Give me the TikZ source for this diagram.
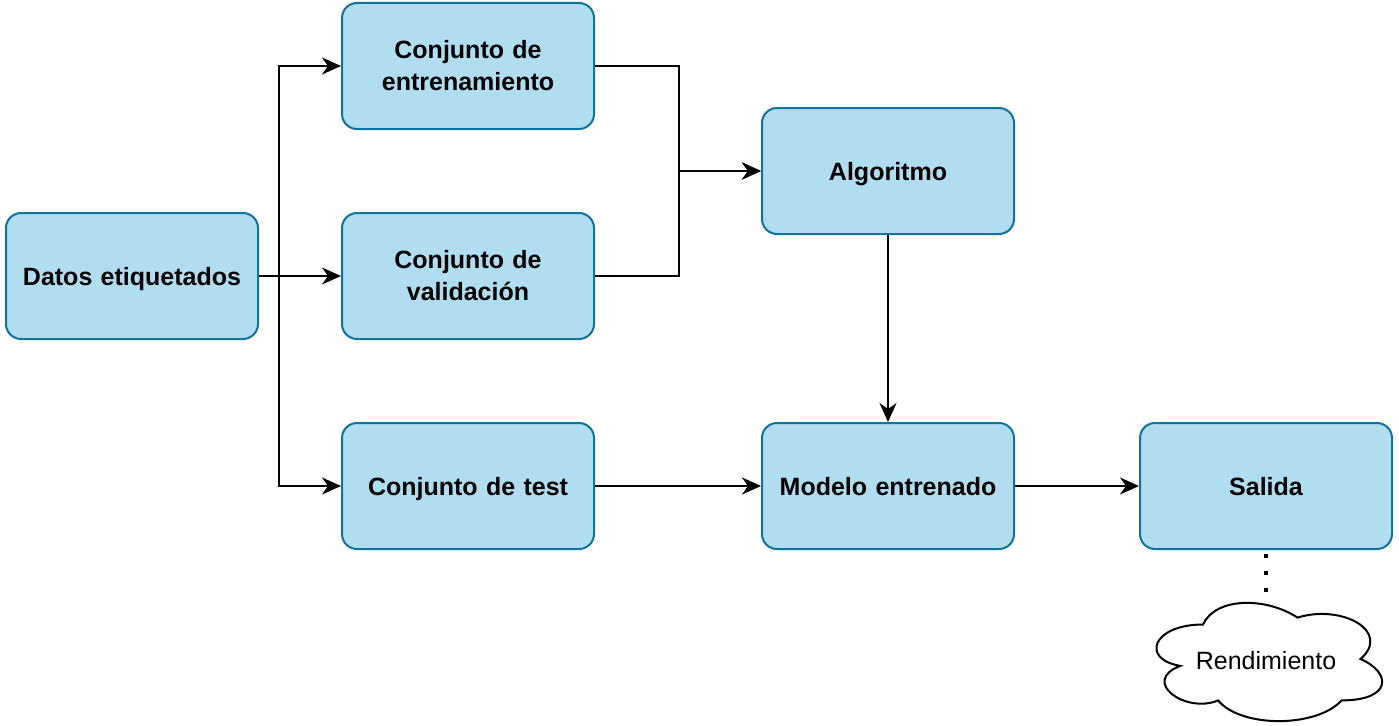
\documentclass[tikz,border=0pt]{standalone}
\usepackage{fontspec}
\setmainfont{Liberation Sans}
\usetikzlibrary{arrows.meta}
\definecolor{boxfill}{HTML}{B1DDF0}
\definecolor{boxline}{HTML}{10739E}
\tikzset{
  stepbox/.style={draw=boxline, fill=boxfill, line width=2pt, rounded corners=15pt,
    minimum width=252pt, minimum height=126pt, text width=240pt, align=center,
    font=\fontsize{25}{32}\selectfont\bfseries, inner sep=0pt},
  oneline/.style={text depth=0pt},
  arr/.style={draw=black, line width=2pt, -{Stealth[length=19pt,width=17pt,inset=6pt]}},
}
\begin{document}
\begin{tikzpicture}[x=1pt,y=-1pt]
\useasboundingbox (0,0) rectangle (1399,725);
\node[stepbox, oneline] (datos) at (132,276) {Datos etiquetados};
\node[stepbox] (entren) at (468,66) {Conjunto de\\entrenamiento};
\node[stepbox] (valid) at (468,276) {Conjunto de\\validación};
\node[stepbox, oneline] (test) at (468,486) {Conjunto de test};
\node[stepbox, oneline] (algo) at (888,171) {Algoritmo};
\node[stepbox, oneline] (modelo) at (888,486) {Modelo entrenado};
\node[stepbox, oneline] (salida) at (1266,486) {Salida};
% cloud
\begin{scope}[shift={(1140,590)}]
\draw[line width=2pt, fill=white]
  (0.25*252,0.25*138)
  .. controls (0.05*252,0.25*138) and (0,0.5*138) .. (0.16*252,0.55*138)
  .. controls (0,0.66*138) and (0.18*252,0.9*138) .. (0.31*252,0.8*138)
  .. controls (0.4*252,138) and (0.7*252,138) .. (0.8*252,0.8*138)
  .. controls (252,0.8*138) and (252,0.6*138) .. (0.875*252,0.5*138)
  .. controls (252,0.3*138) and (0.8*252,0.1*138) .. (0.625*252,0.2*138)
  .. controls (0.5*252,0.05*138) and (0.3*252,0.05*138) .. (0.25*252,0.25*138) -- cycle;
\end{scope}
\node[font=\fontsize{25}{31}\selectfont, inner sep=0pt, text depth=0pt] (rend) at (1266,660) {Rendimiento};
\coordinate (cloudtop) at (1266,603);
% connectors
\draw[arr] (datos.east) -- ++(20,0) |- (entren.west);
\draw[arr] (datos.east) -- (valid.west);
\draw[arr] (datos.east) -- ++(20,0) |- (test.west);
\draw[arr] (entren.east) -- ++(84,0) |- (algo.west);
\draw[arr] (valid.east) -- ++(84,0) |- (algo.west);
\draw[arr] (algo.south) -- (modelo.north);
\draw[arr] (test.east) -- (modelo.west);
\draw[arr] (modelo.east) -- (salida.west);
\draw[line width=4pt, dash pattern=on 4pt off 13pt, dash phase=13pt] (salida.south) -- (cloudtop);
\end{tikzpicture}
\end{document}
